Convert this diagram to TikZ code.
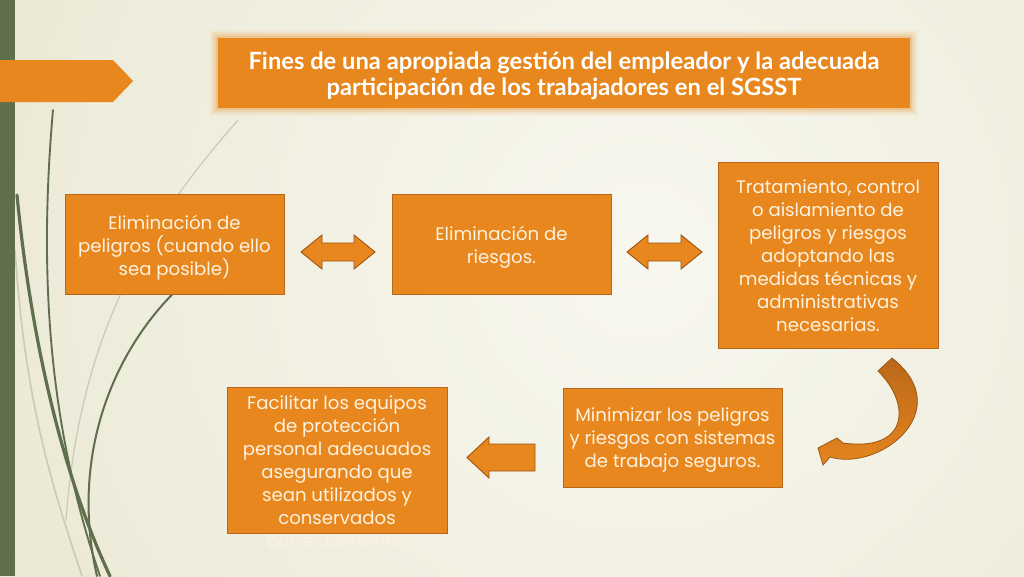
\documentclass[tikz,border=0pt]{standalone}
\usepackage{fontspec}
\setmainfont{Poppins}
\newfontfamily\titlefont{Lato}
\definecolor{bgA}{HTML}{E4E1C6}
\definecolor{bgB}{HTML}{F8F7EF}
\definecolor{orng}{HTML}{E8871E}
\definecolor{boxline}{HTML}{B8661A}
\definecolor{arrline}{HTML}{9E5514}
\definecolor{arrdark}{HTML}{B9681A}
\definecolor{boxtext}{HTML}{FDF2DF}
\definecolor{grn}{HTML}{5F6E4D}
\definecolor{grnlight}{HTML}{C9CBB4}
\begin{document}
\begin{tikzpicture}[x=0.75pt,y=-0.75pt,
  box/.style={draw=boxline, line width=0.6pt, fill=orng, inner sep=0pt},
  boxtxt/.style={text=boxtext, align=center, inner sep=0pt, font=\fontsize{13.6}{17.25}\selectfont},
  blockarrow/.style={fill=orng, draw=arrline, line width=0.7pt, line join=miter},
  wisp/.style={draw=grn, line cap=round},
  wisplight/.style={draw=grnlight, line cap=round}]
\useasboundingbox (0,0) rectangle (1024,576);
% background
\begin{scope}
\clip (0,0) rectangle (1024,576);
\fill[bgA] (0,0) rectangle (1024,576);
\shade[inner color=bgB, outer color=bgA] (640,260) circle (1100);
\end{scope}
% wisps
\draw[wisplight, line width=0.9pt] (238,120) .. controls (150,220) and (80,330) .. (66,520);
\draw[wisplight, line width=1.2pt] (15,250) .. controls (25,400) and (50,480) .. (82,576);
\draw[wisp, line width=2.4pt] (17,195) .. controls (30,330) and (60,470) .. (110,576);
\draw[wisp, line width=1.4pt] (53,110) .. controls (38,280) and (50,430) .. (100,576);
\draw[wisp, line width=1.5pt] (185,282) .. controls (110,350) and (70,460) .. (97,576);
% left bar and banner
\fill[grn] (0,0) rectangle (15,576);
\fill[orng] (0,60) -- (113,60) -- (133,81) -- (113,102) -- (0,102) -- cycle;
% title
\foreach \i/\o in {8/0.06,6/0.09,4/0.13,2/0.2} {
  \fill[orng, opacity=\o] (218-\i,38-\i) rectangle (910+\i,108+\i);
}
\node[fill=orng, minimum width=519pt, minimum height=52.5pt, inner sep=0pt] (title) at (564,73) {};
\node[text=white, align=center, inner sep=0pt,
  font=\titlefont\bfseries\fontsize{17.8}{19.5}\selectfont] (titletext) at (564,76)
  {Fines de una apropiada gestión del empleador y la adecuada\\participación de los trabajadores en el SGSST};
% boxes
\node[box, minimum width=164.25pt, minimum height=75pt] (b1) at (174.5,244) {};
\node[boxtxt] (t1) at (174.5,248) {Eliminación de\\peligros (cuando ello\\sea posible)};
\node[box, minimum width=164.25pt, minimum height=75pt] (b2) at (501.5,244) {};
\node[boxtxt] (t2) at (501.5,247.5) {Eliminación de\\riesgos.};
\node[box, minimum width=165pt, minimum height=139.5pt] (b3) at (828,255) {};
\node[boxtxt] (t3) at (828,256) {Tratamiento, control\\o aislamiento de\\peligros y riesgos\\adoptando las\\medidas técnicas y\\administrativas\\necesarias.};
\node[box, minimum width=164.25pt, minimum height=74.25pt] (b4) at (672.5,437.5) {};
\node[boxtxt] (t4) at (672.5,440.5) {Minimizar los peligros\\y riesgos con sistemas\\de trabajo seguros.};
\node[box, minimum width=165pt, minimum height=109.5pt] (b5) at (337,460) {};
\node[boxtxt] (t5) at (337,472)
  {Facilitar los equipos\\de protección\\personal adecuados\\asegurando que\\sean utilizados y\\conservados\\correctamente.};
% block arrows
\path[blockarrow] (301,252) -- (322,235) -- (322,243) -- (354,243) -- (354,235) -- (375,252)
  -- (354,269) -- (354,261) -- (322,261) -- (322,269) -- cycle;
\path[blockarrow] (627,252) -- (648,235) -- (648,243) -- (681,243) -- (681,235) -- (702,252)
  -- (681,269) -- (681,261) -- (648,261) -- (648,269) -- cycle;
\path[blockarrow] (467,457.5) -- (489,437) -- (489,444) -- (535,444) -- (535,471) -- (489,471)
  -- (489,478) -- cycle;
% curved arrow
\path[draw=arrline, line width=0.6pt, top color=arrdark, bottom color=orng, line join=miter]
  (878,371) .. controls (912,405) and (908,452) .. (843,443) -- (837,438) -- (818,448)
  -- (823,465) -- (830,457) .. controls (880,472) and (958,410) .. (892,358) -- cycle;
\end{tikzpicture}
\end{document}
